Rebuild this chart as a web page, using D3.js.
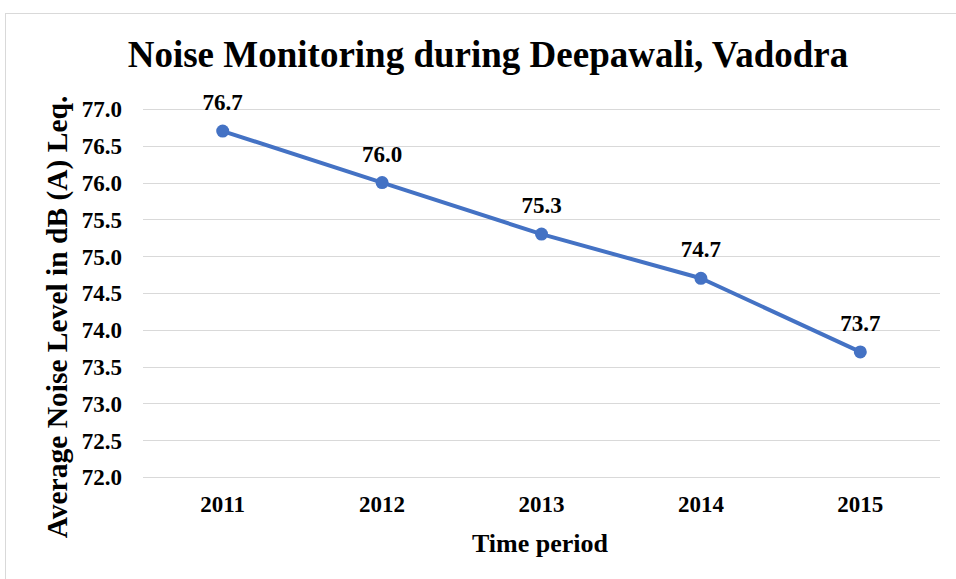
<!DOCTYPE html>
<html>
<head>
<meta charset="utf-8">
<script src="https://cdn.jsdelivr.net/npm/d3@7"></script>
<style>
  html, body { margin: 0; padding: 0; background: #fff; }
  svg { display: block; }
  text { font-family: "Liberation Serif", "Times New Roman", serif; font-weight: bold; fill: #000; }
</style>
</head>
<body>
<svg id="chart" width="956" height="579"></svg>
<script>
// Average noise level (dB(A) Leq) recorded in Vadodara during Deepawali
const years = ["2011", "2012", "2013", "2014", "2015"];
const noiseLevels = [76.7, 76.0, 75.3, 74.7, 73.7];
const yTicks = [72.0, 72.5, 73.0, 73.5, 74.0, 74.5, 75.0, 75.5, 76.0, 76.5, 77.0];

const svg = d3.select("#chart");
const W = 956, H = 579;
const plot = { left: 143, right: 940, top: 109, bottom: 477 };

// outer chart frame
svg.append("rect")
  .attr("x", 5.5).attr("y", 13.5)
  .attr("width", W + 10).attr("height", H + 10)
  .attr("fill", "#fff").attr("stroke", "#d9d9d9").attr("stroke-width", 1);

const x = d3.scaleBand().domain(years).range([plot.left, plot.right]);
const y = d3.scaleLinear().domain([72, 77]).range([plot.bottom, plot.top]);

// horizontal gridlines
svg.append("g")
  .selectAll("line")
  .data(yTicks)
  .join("line")
  .attr("x1", plot.left).attr("x2", plot.right)
  .attr("y1", d => Math.round(y(d)) + 0.5).attr("y2", d => Math.round(y(d)) + 0.5)
  .attr("stroke", "#d9d9d9").attr("stroke-width", 1);

// y axis labels
const yAxis = d3.axisLeft(y).tickValues(yTicks).tickFormat(d3.format(".1f")).tickSize(0).tickPadding(0);
svg.append("g")
  .attr("transform", `translate(122,0)`)
  .call(yAxis)
  .call(g => g.select(".domain").remove())
  .call(g => g.selectAll("text")
    .attr("font-size", 23)
    .attr("dy", "0.34em")
    .attr("fill", "#000"));

// x axis labels
const xAxis = d3.axisBottom(x).tickSize(0).tickPadding(0);
svg.append("g")
  .attr("transform", `translate(0,${plot.bottom})`)
  .call(xAxis)
  .call(g => g.select(".domain").remove())
  .call(g => g.selectAll("text")
    .attr("font-size", 23)
    .attr("dy", 0)
    .attr("y", 35)
    .attr("fill", "#000"));

// series line
const cx = d => x(d) + x.bandwidth() / 2;
const pts = years.map((yr, i) => ({ yr, v: noiseLevels[i] }));
svg.append("path")
  .datum(pts)
  .attr("fill", "none")
  .attr("stroke", "#4472C4")
  .attr("stroke-width", 4)
  .attr("stroke-linejoin", "round")
  .attr("d", d3.line().x(d => cx(d.yr)).y(d => y(d.v)));

svg.append("g")
  .selectAll("circle")
  .data(pts)
  .join("circle")
  .attr("cx", d => cx(d.yr)).attr("cy", d => y(d.v))
  .attr("r", 6.5)
  .attr("fill", "#4472C4");

// value labels
svg.append("g")
  .selectAll("text")
  .data(pts)
  .join("text")
  .attr("x", d => cx(d.yr)).attr("y", d => y(d.v) - 21)
  .attr("text-anchor", "middle")
  .attr("font-size", 23)
  .text(d => d3.format(".1f")(d.v));

// titles
svg.append("text")
  .attr("x", 488).attr("y", 67)
  .attr("text-anchor", "middle")
  .attr("font-size", 37)
  .text("Noise Monitoring during Deepawali, Vadodra");

svg.append("text")
  .attr("x", 540).attr("y", 552)
  .attr("text-anchor", "middle")
  .attr("font-size", 26)
  .text("Time period");

svg.append("text")
  .attr("transform", "translate(67,317) rotate(-90)")
  .attr("text-anchor", "middle")
  .attr("font-size", 29.5)
  .text("Average Noise Level in dB (A) Leq.");
</script>
</body>
</html>
